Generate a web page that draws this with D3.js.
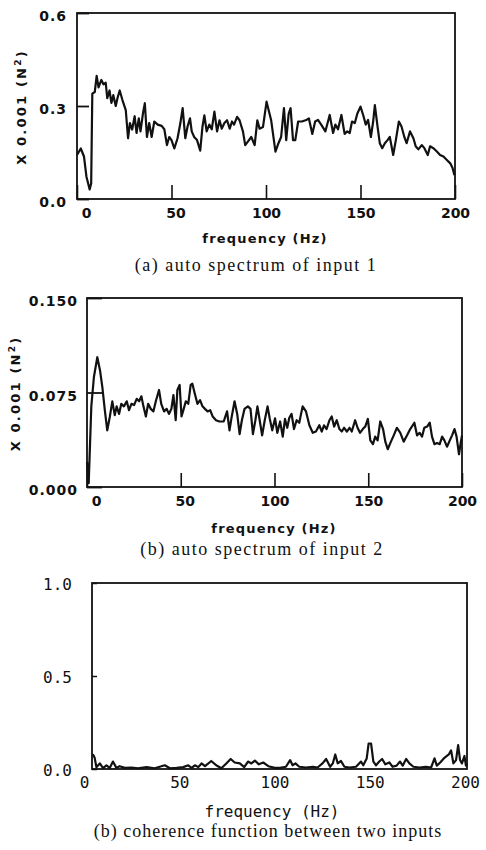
<!DOCTYPE html>
<html lang="en">
<head>
    <meta charset="utf-8">
    <title>spectra</title>
    <script src="https://d3js.org/d3.v7.min.js"></script>
    <style>
        body { margin: 0; background: #fff; }
        .tick text { fill: #111; }
    </style>
</head>
<body>
    <svg width="486" height="850" id="mainsvg"></svg>
    <script>
        // (a) auto spectrum of input 1, x 0.001 N^2
        const freqA = [0, 2, 3.7, 5, 6.7, 7.5, 8.1, 9.4, 10.4, 11.4, 12.9, 14, 15.2, 16, 17.2, 18.2, 19.2, 20.5, 21.4, 22.6,
            24, 25.8, 27, 28, 29.2, 30.5, 31.5, 32.7, 33.6, 35, 35.9, 37, 38.2, 39.5, 40.9, 42.7, 44.8, 46.2, 47.6, 48.8,
            50, 51.5, 53.2, 54.7, 55.9, 57.3, 58.5, 59.8, 60.7, 62, 63.5, 65.2, 66.4, 67.4, 68.6, 70, 71.3, 72.7, 74.1, 75.4,
            76.6, 78, 79.4, 80.8, 82, 83.1, 84.7, 86, 87.8, 89, 90.4, 92.2, 94, 95.4, 96.6, 98.4, 100.3, 102.7, 105, 106.6,
            108, 109.5, 110.7, 112, 113, 114.3, 115.5, 117, 119, 121.3, 122.7, 124.5, 126, 127.5, 129.2, 131.4, 133.7, 135.5, 136.7, 138.1,
            139.9, 141.6, 143, 144.3, 145.5, 147, 148.3, 150, 151.4, 152.8, 154, 155.5, 156.7, 157.6, 159, 160.2, 161.5, 162.9, 164.3, 165.5,
            167.3, 168.7, 170.3, 171.7, 173.2, 174.4, 176.2, 178, 179.2, 180.6, 182.4, 183.8, 185.6, 186.8, 188.6, 190.4, 192.1, 193.9, 195.7, 197.5,
            198.7, 199.7];
        const powerA = [0.142, 0.163, 0.137, 0.072, 0.031, 0.05, 0.34, 0.345, 0.397, 0.36, 0.384, 0.37, 0.375, 0.325, 0.35, 0.31, 0.335, 0.30, 0.325, 0.35,
            0.32, 0.287, 0.196, 0.245, 0.224, 0.267, 0.213, 0.26, 0.218, 0.28, 0.309, 0.20, 0.245, 0.20, 0.25, 0.24, 0.236, 0.225, 0.174, 0.20,
            0.19, 0.163, 0.196, 0.245, 0.293, 0.196, 0.234, 0.26, 0.218, 0.20, 0.19, 0.156, 0.234, 0.27, 0.218, 0.24, 0.225, 0.282, 0.218, 0.254,
            0.227, 0.245, 0.254, 0.227, 0.25, 0.24, 0.265, 0.254, 0.218, 0.174, 0.185, 0.20, 0.174, 0.254, 0.227, 0.232, 0.314, 0.255, 0.153, 0.18,
            0.20, 0.293, 0.19, 0.275, 0.293, 0.19, 0.19, 0.25, 0.25, 0.255, 0.26, 0.21, 0.25, 0.255, 0.24, 0.218, 0.271, 0.213, 0.24, 0.225,
            0.271, 0.21, 0.218, 0.213, 0.25, 0.245, 0.275, 0.298, 0.271, 0.24, 0.255, 0.20, 0.25, 0.303, 0.234, 0.18, 0.164, 0.18, 0.19, 0.20,
            0.142, 0.19, 0.25, 0.234, 0.20, 0.18, 0.218, 0.196, 0.17, 0.16, 0.174, 0.164, 0.142, 0.17, 0.164, 0.153, 0.142, 0.137, 0.126, 0.115,
            0.10, 0.077];

        // (b) auto spectrum of input 2
        const freqB = [0, 0.9, 2.3, 3.7, 5.5, 7, 8.2, 9.5, 10.8, 12.2, 13.5, 14.8, 15.8, 17.1, 18.3, 19.7, 21.2, 22.4, 23.7, 25.1,
            26.5, 27.8, 29, 30.1, 31.4, 32.6, 34, 35.4, 36.7, 38.4, 39.6, 41.1, 42.5, 43.7, 45, 46.1, 47.3, 48.2, 49.4, 50.4,
            51.4, 52.7, 54, 55.3, 56.2, 57.5, 58.9, 60.3, 61.6, 62.9, 64.3, 65.7, 67, 68.8, 70.6, 72.9, 74.7, 76, 77.2, 78.7,
            80.1, 81.4, 82.6, 84, 85.8, 87.2, 88.5, 89.8, 90.9, 92.1, 93.4, 94.8, 96.3, 97.5, 98.8, 100.3, 101.5, 103, 104.4, 105.6,
            106.8, 107.9, 109.1, 110.4, 111.8, 113.2, 115, 116.8, 118.6, 120.4, 122.1, 123.9, 125.2, 126.4, 127.8, 129.3, 130.5, 131.8, 133.2, 134.6,
            135.9, 137.1, 138.6, 140, 141.2, 143, 144.3, 145.6, 147.1, 148.4, 149.8, 151.1, 152.5, 153.7, 155, 156.4, 157.9, 159.1, 160.4, 162.1,
            163.6, 165.3, 167.1, 168.9, 170.7, 172.4, 174.6, 176, 177.4, 178.7, 179.9, 181.4, 182.8, 184, 185.3, 186.7, 188.1, 189.4, 190.6, 192,
            193.5, 194.7, 196, 197.1, 198.4, 199.3, 200];
        const powerB = [0.02, 0.003, 0.064, 0.0875, 0.103, 0.092, 0.079, 0.061, 0.045, 0.056, 0.068, 0.057, 0.064, 0.058, 0.066, 0.064, 0.068, 0.061, 0.066, 0.065,
            0.07, 0.068, 0.072, 0.064, 0.056, 0.066, 0.062, 0.06, 0.068, 0.077, 0.066, 0.06, 0.062, 0.058, 0.062, 0.073, 0.053, 0.077, 0.081, 0.056,
            0.061, 0.068, 0.066, 0.081, 0.082, 0.074, 0.066, 0.069, 0.064, 0.062, 0.06, 0.061, 0.056, 0.053, 0.052, 0.052, 0.06, 0.045, 0.056, 0.068,
            0.058, 0.042, 0.053, 0.062, 0.064, 0.062, 0.042, 0.053, 0.064, 0.053, 0.041, 0.053, 0.064, 0.054, 0.045, 0.0545, 0.043, 0.052, 0.040, 0.054,
            0.047, 0.055, 0.058, 0.046, 0.053, 0.051, 0.064, 0.06, 0.049, 0.043, 0.044, 0.049, 0.044, 0.049, 0.046, 0.053, 0.056, 0.048, 0.053, 0.046,
            0.044, 0.047, 0.044, 0.047, 0.044, 0.053, 0.047, 0.043, 0.046, 0.048, 0.054, 0.037, 0.034, 0.040, 0.037, 0.052, 0.046, 0.036, 0.03, 0.036,
            0.041, 0.047, 0.043, 0.036, 0.041, 0.046, 0.051, 0.041, 0.043, 0.040, 0.047, 0.048, 0.051, 0.040, 0.034, 0.035, 0.034, 0.040, 0.037, 0.032,
            0.037, 0.041, 0.046, 0.040, 0.026, 0.035, 0.041];

        // (c) coherence function between two inputs
        const freqC = [4.65, 5.6, 6.5, 8.3, 10, 11.8, 13.5, 15.2, 17, 18.7, 21.4, 24.9, 28.4, 32.8, 37.1, 42.4, 45.1, 48.6, 52.1, 54.7,
            56.5, 58.2, 60, 61.7, 63.5, 66.8, 69.4, 72.1, 74.7, 77, 79.1, 81.8, 84.1, 86.1, 87.9, 89.7, 91.8, 94.1, 96.8, 100.2,
            102.9, 106, 108.2, 109.5, 111, 113, 116.5, 120.1, 122.6, 125.2, 127.1, 129.2, 130.6, 131.9, 133.2, 134.9, 136.7, 139.3, 142.8, 145.4,
            146.6, 148.4, 149.4, 150.7, 151.9, 153.3, 155, 156.5, 158.2, 160.3, 162, 164.1, 165.9, 167.3, 169.1, 170.8, 172.9, 176.1, 179.5, 182.2,
            184, 185.2, 187, 189.2, 191.5, 192.7, 193.9, 195.3, 196.4, 197.4, 198.4, 199.7, 200.5, 201];
        const cohC = [0.08, 0.06, 0.01, 0.03, 0.005, 0.02, 0.005, 0.04, 0.006, 0.015, 0.006, 0.008, 0.004, 0.01, 0.004, 0.02, 0.004, 0.006, 0.01, 0.02,
            0.006, 0.02, 0.01, 0.03, 0.015, 0.043, 0.02, 0.004, 0.03, 0.054, 0.035, 0.03, 0.01, 0.04, 0.03, 0.045, 0.025, 0.035, 0.015, 0.006,
            0.006, 0.012, 0.048, 0.02, 0.03, 0.012, 0.008, 0.012, 0.008, 0.03, 0.054, 0.012, 0.03, 0.078, 0.03, 0.043, 0.012, 0.008, 0.012, 0.04,
            0.02, 0.057, 0.137, 0.137, 0.04, 0.02, 0.04, 0.054, 0.025, 0.035, 0.012, 0.018, 0.04, 0.018, 0.054, 0.03, 0.012, 0.008, 0.012, 0.008,
            0.057, 0.018, 0.035, 0.06, 0.078, 0.1, 0.03, 0.048, 0.128, 0.048, 0.03, 0.07, 0.018, 0.03];

        const xTicks = [0, 50, 100, 150, 200];
        const yTicksA = [0.0, 0.3, 0.6];
        const yTicksB = [0.000, 0.075, 0.150];
        const yTicksC = [0.0, 0.5, 1.0];

        const svg = d3.select('#mainsvg');
        svg.append('rect').attr('width', 486).attr('height', 850).attr('fill', '#fff');

        const boldFont = "'DejaVu Sans', sans-serif";
        const monoFont = "'DejaVu Sans Mono', monospace";
        const serifFont = "'Liberation Serif', 'DejaVu Serif', serif";

        const drawLine = function (g, xs, ys, xScale, yScale) {
            const line = d3.line()
                .x(d => xScale(d[0]))
                .y(d => yScale(d[1]));
            g.append('path')
                .datum(d3.zip(xs, ys))
                .attr('d', line)
                .attr('fill', 'none')
                .attr('stroke', '#111')
                .attr('stroke-width', 2.2)
                .attr('stroke-linejoin', 'round');
        };

        const drawFrame = function (g, x0, x1, y0, y1) {
            g.append('rect')
                .attr('x', x0).attr('y', y1)
                .attr('width', x1 - x0).attr('height', y0 - y1)
                .attr('fill', 'none')
                .attr('stroke', '#111')
                .attr('stroke-width', 1.8);
        };

        const yTitle = function (g, cx, cy) {
            const t = g.append('text')
                .attr('transform', `translate(${cx},${cy}) rotate(-90)`)
                .attr('text-anchor', 'middle')
                .attr('dy', '0.35em')
                .attr('font-family', boldFont)
                .attr('font-weight', 'bold')
                .attr('font-size', 13)
                .attr('letter-spacing', 2.2)
                .attr('fill', '#111');
            t.append('tspan').text('X 0.001 (N');
            t.append('tspan').attr('baseline-shift', 'super').attr('font-size', 9).text('2');
            t.append('tspan').text(')');
        };

        // bold spectrum panels (a) and (b)
        const spectrumPanel = function (opt) {
            const g = svg.append('g');
            const x = d3.scaleLinear().domain([0, 200]).range([opt.left, opt.right]);
            const y = d3.scaleLinear().domain([0, opt.yMax]).range([opt.bottom, opt.top]);

            drawLine(g, opt.xs, opt.ys, x, y);
            drawFrame(g, opt.left, opt.right, opt.bottom, opt.top);

            const xAxis = g.append('g')
                .attr('transform', `translate(0,${opt.bottom})`)
                .call(d3.axisBottom(x).tickValues(xTicks).tickSize(-14).tickPadding(9).tickFormat(d3.format('d')));
            xAxis.selectAll('.domain').remove();
            xAxis.selectAll('line').attr('stroke', '#111').attr('stroke-width', 1.6);
            xAxis.selectAll('text')
                .attr('font-family', boldFont).attr('font-weight', 'bold').attr('font-size', 14)
                .attr('dx', d => d === 0 ? 9 : (d === 50 ? 4 : 0));

            const yAxis = g.append('g')
                .attr('transform', `translate(${opt.left},0)`)
                .call(d3.axisLeft(y).tickValues(opt.yTicks).tickSize(-opt.yTickLen).tickPadding(opt.yPad).tickFormat(d3.format(opt.fmt)));
            yAxis.selectAll('.domain').remove();
            yAxis.selectAll('line').attr('stroke', '#111').attr('stroke-width', 1.8);
            yAxis.selectAll('text')
                .attr('font-family', boldFont).attr('font-weight', 'bold').attr('font-size', 14)
                .attr('letter-spacing', 1).attr('dy', '0.55em');

            yTitle(g, opt.titleX, (opt.top + opt.bottom) / 2 + 1);

            g.append('text')
                .attr('x', opt.labelX).attr('y', opt.labelY)
                .attr('text-anchor', 'middle')
                .attr('font-family', boldFont).attr('font-weight', 'bold').attr('font-size', 13)
                .attr('letter-spacing', 1.2)
                .attr('fill', '#111')
                .text('frequency (Hz)');

            g.append('text')
                .attr('x', opt.capX).attr('y', opt.capY)
                .attr('text-anchor', 'middle')
                .attr('font-family', serifFont).attr('font-size', 18)
                .attr('letter-spacing', 1.5)
                .attr('fill', '#111')
                .text(opt.caption);
        };

        spectrumPanel({
            xs: freqA, ys: powerA, yMax: 0.6, yTicks: yTicksA, fmt: '.1f',
            left: 77, right: 455, top: 13, bottom: 199, yTickLen: 12, yPad: 10,
            titleX: 21, labelX: 265, labelY: 243, capX: 256, capY: 271,
            caption: '(a) auto spectrum of input 1'
        });

        spectrumPanel({
            xs: freqB, ys: powerB, yMax: 0.15, yTicks: yTicksB, fmt: '.3f',
            left: 87, right: 462, top: 298, bottom: 487, yTickLen: 15, yPad: 9,
            titleX: 15, labelX: 274, labelY: 533, capX: 262, capY: 555,
            caption: '(b) auto spectrum of input 2'
        });

        // coherence panel, typewriter style labels
        const gc = svg.append('g');
        const xC = d3.scaleLinear().domain([0, 200]).range([84, 465]);
        const yC = d3.scaleLinear().domain([0, 1]).range([769, 583]);
        const frameL = 92, frameR = 467;

        drawLine(gc, freqC, cohC, xC, yC);
        drawFrame(gc, frameL, frameR, yC(0), yC(1));

        const xAxisC = gc.append('g')
            .attr('transform', `translate(0,${yC(0)})`)
            .call(d3.axisBottom(xC).tickValues(xTicks).tickSize(0).tickPadding(8).tickFormat(d3.format('d')));
        xAxisC.selectAll('.domain').remove();
        xAxisC.selectAll('text').attr('font-family', monoFont).attr('font-size', 16);

        const yAxisC = gc.append('g')
            .attr('transform', `translate(${frameL},0)`)
            .call(d3.axisLeft(yC).tickValues(yTicksC).tickSize(-5).tickPadding(20).tickFormat(d3.format('.1f')));
        yAxisC.selectAll('.domain').remove();
        yAxisC.selectAll('line').attr('stroke', '#111').attr('stroke-width', 1.5);
        yAxisC.selectAll('text').attr('font-family', monoFont).attr('font-size', 16).attr('dy', '0.4em');

        gc.append('text')
            .attr('x', 272).attr('y', 817)
            .attr('text-anchor', 'middle')
            .attr('font-family', monoFont).attr('font-size', 16)
            .attr('fill', '#111')
            .text('frequency (Hz)');

        gc.append('text')
            .attr('x', 268).attr('y', 837)
            .attr('text-anchor', 'middle')
            .attr('font-family', serifFont).attr('font-size', 18)
            .attr('letter-spacing', 1)
            .attr('fill', '#111')
            .text('(b) coherence function between two inputs');
    </script>
</body>
</html>
